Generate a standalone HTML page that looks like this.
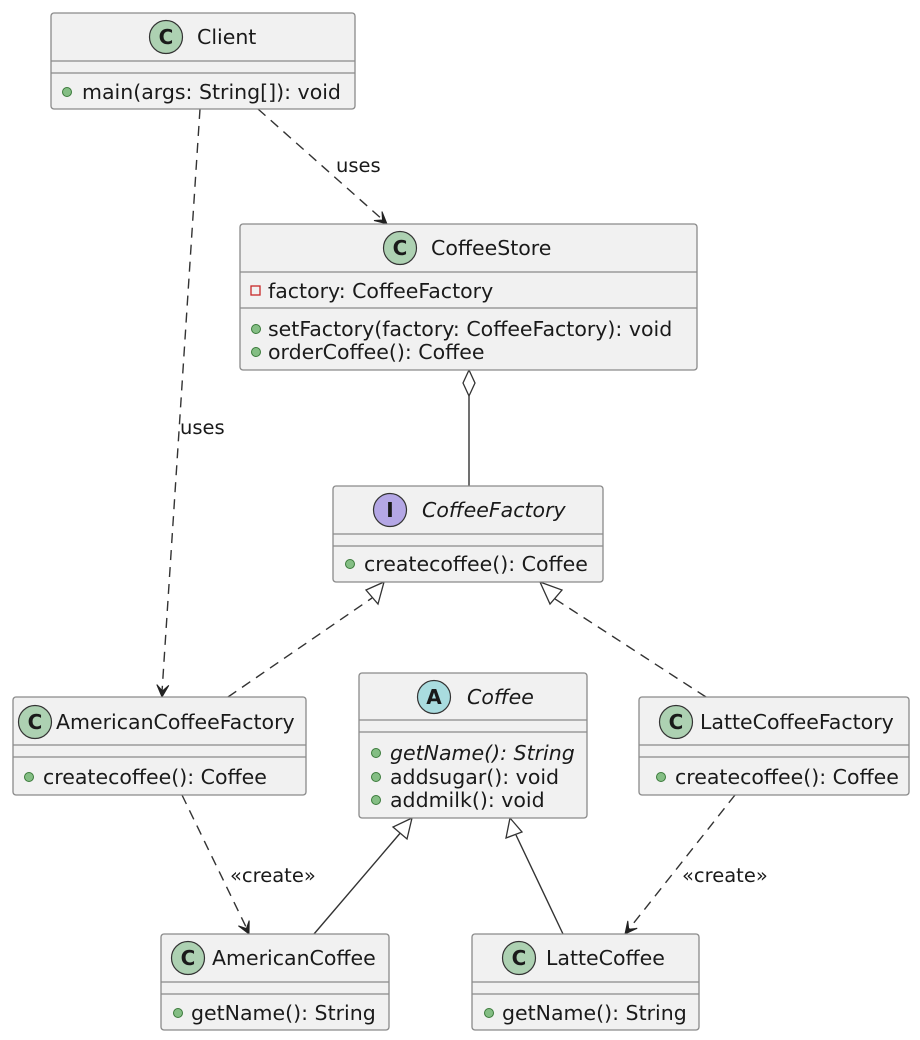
<!DOCTYPE html>
<html><head><meta charset="utf-8"><style>
html,body{margin:0;padding:0;background:#fff;}
svg{display:block;}
text{font-family:"DejaVu Sans","Liberation Sans",sans-serif;font-size:20.5px;fill:#1a1a1a;}
.box{fill:#f1f1f1;stroke:#8a8a8a;stroke-width:1.3;}
.sep{stroke:#8a8a8a;stroke-width:1.3;}
.dash{stroke:#333;stroke-width:1.4;fill:none;stroke-dasharray:10,7;}
.solid{stroke:#333;stroke-width:1.4;fill:none;}
.ah{fill:#222;stroke:#222;stroke-width:1;}
.ci{fill:#add1b2;stroke:#333;stroke-width:1.2;}
.dot{fill:#84be84;stroke:#3a7a3a;stroke-width:1;}
.ct{font-weight:bold;font-size:20px;text-anchor:middle;}
.it{font-style:italic;}
.lb{font-size:19.5px;}
</style></head><body>
<svg width="920" height="1040" viewBox="0 0 920 1040" xmlns="http://www.w3.org/2000/svg">
<!-- edges -->
<path class="dash" d="M200,109 L162,692"/>
<path class="ah" d="M162,697 L168.8,685.4 L162.4,691 L156.8,684.6 Z"/>
<text class="lb" x="180" y="434">uses</text>
<path class="dash" d="M258,109 L383,220"/>
<path class="ah" d="M387,224 L374,220.5 L382.5,220 L382,211.5 Z"/>
<text class="lb" x="336" y="172">uses</text>
<path class="solid" d="M469,396 L469,486"/>
<path d="M469,370 L475,383 L469,396 L463,383 Z" fill="#fff" stroke="#333" stroke-width="1.3"/>
<path class="dash" d="M228,697 L372,598"/>
<path d="M384,582 L366,590 L378,604 Z" fill="#fff" stroke="#333" stroke-width="1.3"/>
<path class="dash" d="M706,697 L552,597"/>
<path d="M540,582 L550,604 L562,590 Z" fill="#fff" stroke="#333" stroke-width="1.3"/>
<path class="dash" d="M182,795 L247,929"/>
<path class="ah" d="M249,934 L238.4,925.8 L246.4,928.6 L249.2,920.6 Z"/>
<text class="lb" x="230" y="882">«create»</text>
<path class="dash" d="M735,795 L629,929"/>
<path class="ah" d="M625,934 L627.8,920.9 L628.7,929.3 L637.2,928.3 Z"/>
<text class="lb" x="682" y="882">«create»</text>
<path class="solid" d="M314,934 L402,831"/>
<path d="M412,818 L393,827 L407,839 Z" fill="#fff" stroke="#333" stroke-width="1.3"/>
<path class="solid" d="M563,934 L516,835"/>
<path d="M510,818 L506,838 L522,832 Z" fill="#fff" stroke="#333" stroke-width="1.3"/>

<!-- Client -->
<rect class="box" x="51" y="13" width="304" height="96" rx="3"/>
<line class="sep" x1="51" y1="61" x2="355" y2="61"/><line class="sep" x1="51" y1="73" x2="355" y2="73"/>
<circle class="ci" cx="166" cy="37" r="16.5"/><text class="ct" x="166" y="44">C</text>
<text x="197" y="44">Client</text>
<circle class="dot" cx="67" cy="92" r="4.5"/><text x="82" y="99">main(args: String[]): void</text>

<!-- CoffeeStore -->
<rect class="box" x="240" y="224" width="457" height="146" rx="3"/>
<line class="sep" x1="240" y1="272" x2="697" y2="272"/><line class="sep" x1="240" y1="308" x2="697" y2="308"/>
<circle class="ci" cx="400" cy="248" r="16.5"/><text class="ct" x="400" y="255">C</text>
<text x="431" y="255">CoffeeStore</text>
<rect x="251" y="286" width="9" height="9" fill="none" stroke="#c82828" stroke-width="1.3"/>
<text x="268" y="298">factory: CoffeeFactory</text>
<circle class="dot" cx="256" cy="329" r="4.5"/><text x="268" y="336">setFactory(factory: CoffeeFactory): void</text>
<circle class="dot" cx="256" cy="352" r="4.5"/><text x="268" y="359">orderCoffee(): Coffee</text>

<!-- CoffeeFactory -->
<rect class="box" x="333" y="486" width="270" height="96" rx="3"/>
<line class="sep" x1="333" y1="534" x2="603" y2="534"/><line class="sep" x1="333" y1="546" x2="603" y2="546"/>
<circle cx="390" cy="510" r="16.5" fill="#b4a7e5" stroke="#333" stroke-width="1.2"/><text class="ct" x="390" y="517">I</text>
<text class="it" x="422" y="517">CoffeeFactory</text>
<circle class="dot" cx="350" cy="564" r="4.5"/><text x="364" y="571">createcoffee(): Coffee</text>

<!-- AmericanCoffeeFactory -->
<rect class="box" x="13" y="697" width="293" height="98" rx="3"/>
<line class="sep" x1="13" y1="745" x2="306" y2="745"/><line class="sep" x1="13" y1="757" x2="306" y2="757"/>
<circle class="ci" cx="35" cy="722" r="16.5"/><text class="ct" x="35" y="729">C</text>
<text x="56" y="729">AmericanCoffeeFactory</text>
<circle class="dot" cx="29" cy="777" r="4.5"/><text x="43" y="784">createcoffee(): Coffee</text>

<!-- Coffee -->
<rect class="box" x="359" y="673" width="228" height="145" rx="3"/>
<line class="sep" x1="359" y1="720" x2="587" y2="720"/><line class="sep" x1="359" y1="732" x2="587" y2="732"/>
<circle cx="434" cy="697" r="16.5" fill="#a9dcdf" stroke="#333" stroke-width="1.2"/><text class="ct" x="434" y="704">A</text>
<text class="it" x="467" y="704">Coffee</text>
<circle class="dot" cx="376" cy="753" r="4.5"/><text class="it" x="390" y="760">getName(): String</text>
<circle class="dot" cx="376" cy="777" r="4.5"/><text x="390" y="784">addsugar(): void</text>
<circle class="dot" cx="376" cy="800" r="4.5"/><text x="390" y="807">addmilk(): void</text>

<!-- LatteCoffeeFactory -->
<rect class="box" x="639" y="697" width="270" height="98" rx="3"/>
<line class="sep" x1="639" y1="745" x2="909" y2="745"/><line class="sep" x1="639" y1="757" x2="909" y2="757"/>
<circle class="ci" cx="676" cy="722" r="16.5"/><text class="ct" x="676" y="729">C</text>
<text x="700" y="729">LatteCoffeeFactory</text>
<circle class="dot" cx="661" cy="777" r="4.5"/><text x="675" y="784">createcoffee(): Coffee</text>

<!-- AmericanCoffee -->
<rect class="box" x="161" y="934" width="228" height="96" rx="3"/>
<line class="sep" x1="161" y1="982" x2="389" y2="982"/><line class="sep" x1="161" y1="994" x2="389" y2="994"/>
<circle class="ci" cx="188" cy="958" r="16.5"/><text class="ct" x="188" y="965">C</text>
<text x="212" y="965">AmericanCoffee</text>
<circle class="dot" cx="178" cy="1013" r="4.5"/><text x="191" y="1020">getName(): String</text>

<!-- LatteCoffee -->
<rect class="box" x="472" y="934" width="227" height="96" rx="3"/>
<line class="sep" x1="472" y1="982" x2="699" y2="982"/><line class="sep" x1="472" y1="994" x2="699" y2="994"/>
<circle class="ci" cx="519" cy="958" r="16.5"/><text class="ct" x="519" y="965">C</text>
<text x="546" y="965">LatteCoffee</text>
<circle class="dot" cx="489" cy="1013" r="4.5"/><text x="502" y="1020">getName(): String</text>
</svg>
</body></html>
